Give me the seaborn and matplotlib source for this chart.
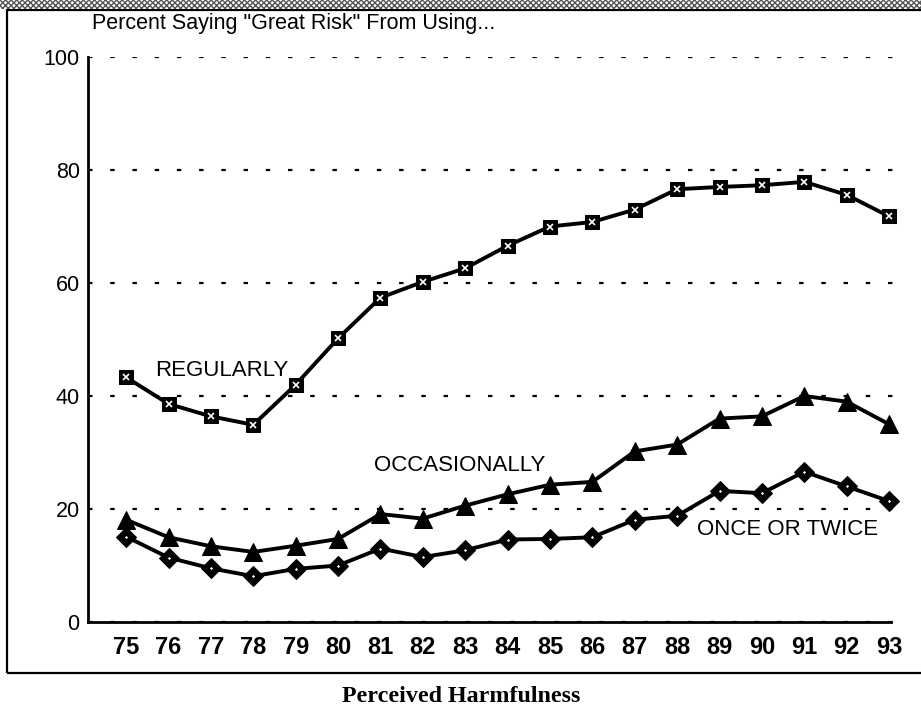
import matplotlib
matplotlib.use("Agg")
import matplotlib.pyplot as plt
from matplotlib.patches import Rectangle
import seaborn as sns

# Percent saying "great risk"
years = [75, 76, 77, 78, 79, 80, 81, 82, 83, 84, 85, 86, 87, 88, 89, 90, 91, 92, 93]
regularly = [43.3, 38.6, 36.4, 34.9, 42.0, 50.2, 57.4, 60.2, 62.6, 66.6, 70.0, 70.8, 73.0, 76.6, 77.0, 77.3, 77.9, 75.6, 71.8]
occasionally = [18.1, 15.0, 13.4, 12.4, 13.5, 14.7, 19.1, 18.3, 20.6, 22.6, 24.3, 24.8, 30.2, 31.4, 36.0, 36.4, 40.0, 39.0, 35.0]
once_twice = [15.1, 11.4, 9.5, 8.1, 9.4, 10.0, 13.0, 11.5, 12.7, 14.6, 14.7, 15.0, 18.1, 18.8, 23.2, 22.8, 26.6, 24.0, 21.4]
xtick_labels = [str(y) for y in years]
yticks = [0, 20, 40, 60, 80, 100]

sns.set_style("white")
plt.rcParams["font.family"] = ["Liberation Sans", "DejaVu Sans"]
plt.rcParams["text.color"] = "black"
plt.rcParams["xtick.color"] = "black"
plt.rcParams["ytick.color"] = "black"
plt.rcParams["axes.labelcolor"] = "black"

fig = plt.figure(figsize=(9.21, 7.13), dpi=100)
ax = fig.add_axes([88 / 921, 91 / 713, 818 / 921, 565 / 713])

# series lines
sns.lineplot(x=years, y=regularly, ax=ax, color="black", linewidth=2.8,
             marker="s", markersize=10.5, markeredgecolor="black", zorder=3)
ax.plot(years, regularly, linestyle="none", marker="x", markersize=4.5,
        markeredgewidth=1.2, color="white", zorder=4)
sns.lineplot(x=years, y=occasionally, ax=ax, color="black", linewidth=2.8,
             marker="^", markersize=12.5, markeredgecolor="black", zorder=3)
sns.lineplot(x=years, y=once_twice, ax=ax, color="black", linewidth=2.8,
             marker="D", markersize=10, markeredgecolor="black", zorder=3)
ax.plot(years, once_twice, linestyle="none", marker="D", markersize=1.6,
        markeredgewidth=0, color="white", zorder=4)

# series labels
ax.text(75.68, 44.5, "REGULARLY", fontsize=16, va="center", ha="left")
ax.text(80.85, 27.7, "OCCASIONALLY", fontsize=16, va="center", ha="left")
ax.text(88.47, 16.3, "ONCE OR TWICE", fontsize=16, va="center", ha="left")

ax.set_xlim(74.1, 93.4)
ax.set_ylim(0, 100)
ax.set_xticks(years)
ax.set_xticklabels(xtick_labels, fontsize=17, fontweight="bold")
ax.set_yticks(yticks)
ax.set_yticklabels([str(v) for v in yticks], fontsize=15.5)
ax.tick_params(axis="x", direction="in", length=8, width=2, pad=10, color="black")
ax.tick_params(axis="y", direction="in", length=0, pad=6)

ax.grid(axis="y", color="black", linestyle=(0, (2, 8)), linewidth=1.6)
ax.grid(axis="x", visible=False)
ax.set_axisbelow(True)

for side in ["top", "right"]:
    ax.spines[side].set_visible(False)
for side in ["left", "bottom"]:
    ax.spines[side].set_color("black")
    ax.spines[side].set_linewidth(2)
ax.spines["bottom"].set_bounds(74.1, 93.04)
ax.patch.set_alpha(0)

# caption inside frame
fig.text(92 / 921, 1 - 24 / 713, 'Percent Saying "Great Risk" From Using...',
         fontsize=15.5, va="center", ha="left")

# outer frame and hatched band on top
fig.patches.append(Rectangle((7 / 921, 1 - 673 / 713), 1.0, (673 - 10) / 713,
                             transform=fig.transFigure, fill=False,
                             edgecolor="black", linewidth=1.6, zorder=0))
fig.patches.append(Rectangle((0, 1 - 9 / 713), 1.0, 9 / 713,
                             transform=fig.transFigure, facecolor="white",
                             edgecolor="#555555", hatch="xxxxxx", linewidth=0, zorder=0))

fig.text(461 / 921, 1 - 697 / 713, "Perceived Harmfulness", fontsize=17.3,
         fontweight="bold", family=["Liberation Serif", "DejaVu Serif"],
         ha="center", va="center")

fig.savefig("out.png", dpi=100)
